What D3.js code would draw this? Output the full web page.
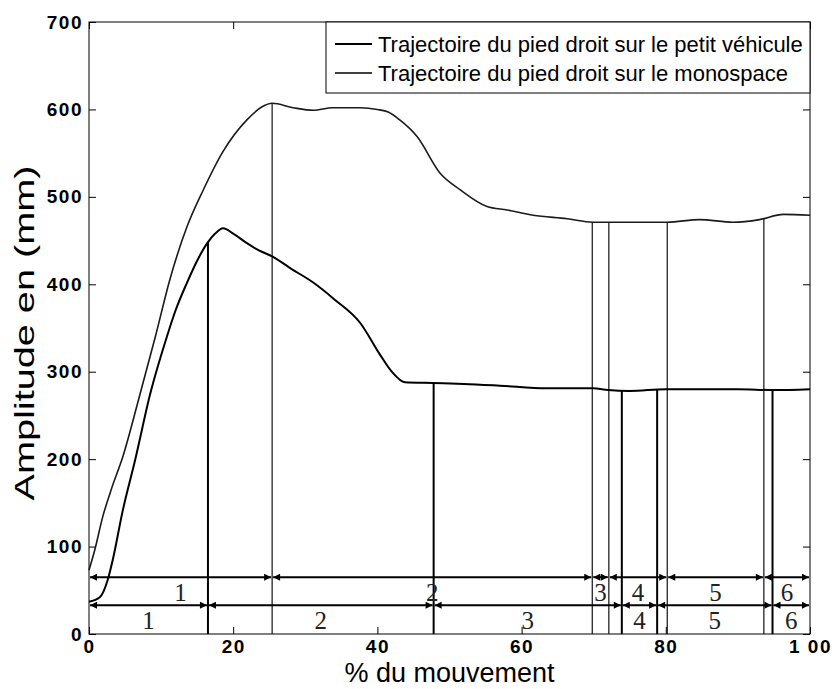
<!DOCTYPE html>
<meta charset="utf-8">
<head>
  <script src="https://d3js.org/d3.v7.min.js"></script>
  <style>
    body { margin: 0; background: #fff; }
    text { font-family: "Liberation Sans", Arial, sans-serif; fill: #000; }
  </style>
</head>
<body>
<div id="chart"></div>
<script>
// ---- data ----
var xTicks = [0, 20, 40, 60, 80, 100];
var xTickLabels = ["0", "20", "40", "60", "80", "1 00"];
var yTicks = [0, 100, 200, 300, 400, 500, 600, 700];

// right foot on the small car (lower curve)
var petitX = [0, 1.5, 2.6, 3.3, 4.7, 6.4, 8.5, 10.8, 12, 13.6, 15, 16.4, 17.5, 18.6, 20, 21.9, 23.5, 25.4, 28, 31.1, 34, 37.6, 40.4, 42, 43.8, 47.7, 52, 57, 63.5, 69.9, 72, 75, 80, 85, 90, 95, 100];
var petitY = [37, 42, 62, 85, 142, 199, 275, 340, 370, 402, 427, 447, 458, 464, 458, 447, 439, 432, 418, 402, 383, 356, 319, 300, 288, 287, 286, 284, 281, 281, 279, 278, 280, 280, 280, 279, 280];

// right foot on the MPV (upper curve)
var monoX = [0, 0.8, 1.9, 3.2, 4.7, 7, 9.2, 11.2, 13.6, 15.8, 18.6, 21.9, 24, 25.4, 28.3, 31.1, 33.8, 37.6, 40, 41.5, 43.1, 45.5, 48.7, 51.5, 55.2, 58, 61.6, 66.3, 69.9, 75.5, 80.2, 84.7, 89.3, 93, 96.3, 100];
var monoY = [73, 96, 134, 168, 203, 272, 340, 405, 466, 507, 552, 588, 603, 607, 602, 599, 602, 602, 600, 597, 588, 569, 527, 508, 489, 485, 479, 475, 471, 471, 471, 474, 471, 474, 480, 479];

// phase boundaries and labels
var petitBounds = [0, 16.5, 47.8, 73.9, 78.8, 94.8, 100];
var monoBounds = [0, 25.4, 69.8, 72.1, 80.2, 93.6, 100];
var phaseLabels = ["1", "2", "3", "4", "5", "6"];
var rowLevels = [33, 65];   // petit row, monospace row (mm)

var legendLabels = ["Trajectoire du pied droit sur le petit véhicule",
                    "Trajectoire du pied droit sur le monospace"];

// ---- layout ----
var margin = {top: 22, right: 22, bottom: 55, left: 89},
    width = 832 - margin.left - margin.right,
    height = 689 - margin.top - margin.bottom;

var svg = d3.select("#chart").append("svg")
    .attr("width", 832).attr("height", 689)
  .append("g")
    .attr("transform", "translate(" + margin.left + "," + margin.top + ")");

var x = d3.scaleLinear().domain([0, 100]).range([0, width]);
var y = d3.scaleLinear().domain([0, 700]).range([height, 0]);

// arrow markers
var defs = svg.append("defs");
defs.append("marker").attr("id", "ah-end")
    .attr("viewBox", "0 0 10 10").attr("refX", 10).attr("refY", 5)
    .attr("markerUnits", "userSpaceOnUse")
    .attr("markerWidth", 9).attr("markerHeight", 7).attr("orient", "auto")
  .append("path").attr("d", "M0,0L10,5L0,10z").attr("fill", "#000");
defs.append("marker").attr("id", "ah-start")
    .attr("viewBox", "0 0 10 10").attr("refX", 0).attr("refY", 5)
    .attr("markerUnits", "userSpaceOnUse")
    .attr("markerWidth", 9).attr("markerHeight", 7).attr("orient", "auto")
  .append("path").attr("d", "M10,0L0,5L10,10z").attr("fill", "#000");

// axes (ticks inside, matlab style)
function styleAxis(g) {
  g.select(".domain").remove();
  g.selectAll("line").attr("stroke", "#000");
  g.selectAll("text")
    .style("font-size", "19px").style("font-weight", "bold")
    .style("letter-spacing", "1.5px");
}
svg.append("g").attr("transform", "translate(0," + height + ")")
  .call(d3.axisBottom(x).tickValues(xTicks).tickSize(-7).tickPadding(6)
        .tickFormat(function(d, i) { return xTickLabels[i]; }))
  .call(styleAxis);
svg.append("g")
  .call(d3.axisTop(x).tickValues(xTicks).tickSize(-7).tickFormat(""))
  .call(styleAxis);
svg.append("g")
  .call(d3.axisLeft(y).tickValues(yTicks).tickSize(-7).tickPadding(6))
  .call(styleAxis);
svg.append("g").attr("transform", "translate(" + width + ",0)")
  .call(d3.axisRight(y).tickValues(yTicks).tickSize(-7).tickFormat(""))
  .call(styleAxis);

svg.append("rect").attr("width", width).attr("height", height)
  .attr("fill", "none").attr("stroke", "#000").attr("stroke-width", 1);

// axis titles
svg.append("text").attr("x", width / 2).attr("y", height + 48)
  .attr("text-anchor", "middle").style("font-size", "27px")
  .text("% du mouvement");
svg.append("text")
  .attr("transform", "translate(" + (-55) + "," + (height / 2 + 5) + ") rotate(-90)")
  .attr("text-anchor", "middle").style("font-size", "28px")
  .attr("textLength", 335).attr("lengthAdjust", "spacingAndGlyphs")
  .text("Amplitude en (mm)");

// helper to read a curve value at a boundary
function valueAt(xs, ys, v) {
  var i = d3.bisectLeft(xs, v);
  if (i <= 0) return ys[0];
  if (i >= xs.length) return ys[ys.length - 1];
  var t = (v - xs[i - 1]) / (xs[i] - xs[i - 1]);
  return ys[i - 1] + t * (ys[i] - ys[i - 1]);
}

// vertical phase separators
var inner = function(b) { return b.slice(1, b.length - 1); };
svg.append("g").selectAll("line")
  .data(inner(petitBounds)).enter().append("line")
    .attr("x1", function(d) { return x(d); }).attr("x2", function(d) { return x(d); })
    .attr("y1", y(0)).attr("y2", function(d) { return y(valueAt(petitX, petitY, d)); })
    .attr("stroke", "#000").attr("stroke-width", 2);
svg.append("g").selectAll("line")
  .data(inner(monoBounds)).enter().append("line")
    .attr("x1", function(d) { return x(d); }).attr("x2", function(d) { return x(d); })
    .attr("y1", y(0)).attr("y2", function(d) { return y(valueAt(monoX, monoY, d)); })
    .attr("stroke", "#111").attr("stroke-width", 1.2);

// curves
var line = d3.line().curve(d3.curveMonotoneX)
  .x(function(d) { return x(d[0]); }).y(function(d) { return y(d[1]); });
svg.append("path").datum(d3.zip(monoX, monoY))
  .attr("d", line).attr("fill", "none").attr("stroke", "#1a1a1a").attr("stroke-width", 1.6);
svg.append("path").datum(d3.zip(petitX, petitY))
  .attr("d", line).attr("fill", "none").attr("stroke", "#000").attr("stroke-width", 2);

// phase arrows + labels
function drawRow(bounds, level) {
  var segs = d3.pairs(bounds);
  var g = svg.append("g");
  g.selectAll("line").data(segs).enter().append("line")
    .attr("x1", function(d) { return x(d[0]) + 1; })
    .attr("x2", function(d) { return x(d[1]) - 1; })
    .attr("y1", y(level)).attr("y2", y(level))
    .attr("stroke", "#000").attr("stroke-width", 2)
    .attr("marker-start", "url(#ah-start)").attr("marker-end", "url(#ah-end)");
  g.selectAll("text").data(segs).enter().append("text")
    .attr("x", function(d) { return x((d[0] + d[1]) / 2); })
    .attr("y", y(level) + 15)
    .attr("text-anchor", "middle").attr("dominant-baseline", "central")
    .style("font-family", "'Liberation Serif', 'Times New Roman', serif")
    .style("font-size", "25px").style("fill", "#222")
    .text(function(d, i) { return phaseLabels[i]; });
}
drawRow(petitBounds, rowLevels[0]);
drawRow(monoBounds, rowLevels[1]);

// legend
var lg = svg.append("g").attr("transform", "translate(" + (326 - margin.left) + ",0)");
lg.append("rect").attr("width", 810 - 326).attr("height", 71)
  .attr("fill", "#fff").attr("stroke", "#000").attr("stroke-width", 1);
legendLabels.forEach(function(t, i) {
  var yy = 22 + i * 29;
  lg.append("line").attr("x1", 9).attr("x2", 46).attr("y1", yy).attr("y2", yy)
    .attr("stroke", "#000").attr("stroke-width", i === 0 ? 2 : 1.4);
  lg.append("text").attr("x", 52).attr("y", yy).attr("dominant-baseline", "central")
    .style("font-size", "22px").text(t);
});
</script>
</body>
